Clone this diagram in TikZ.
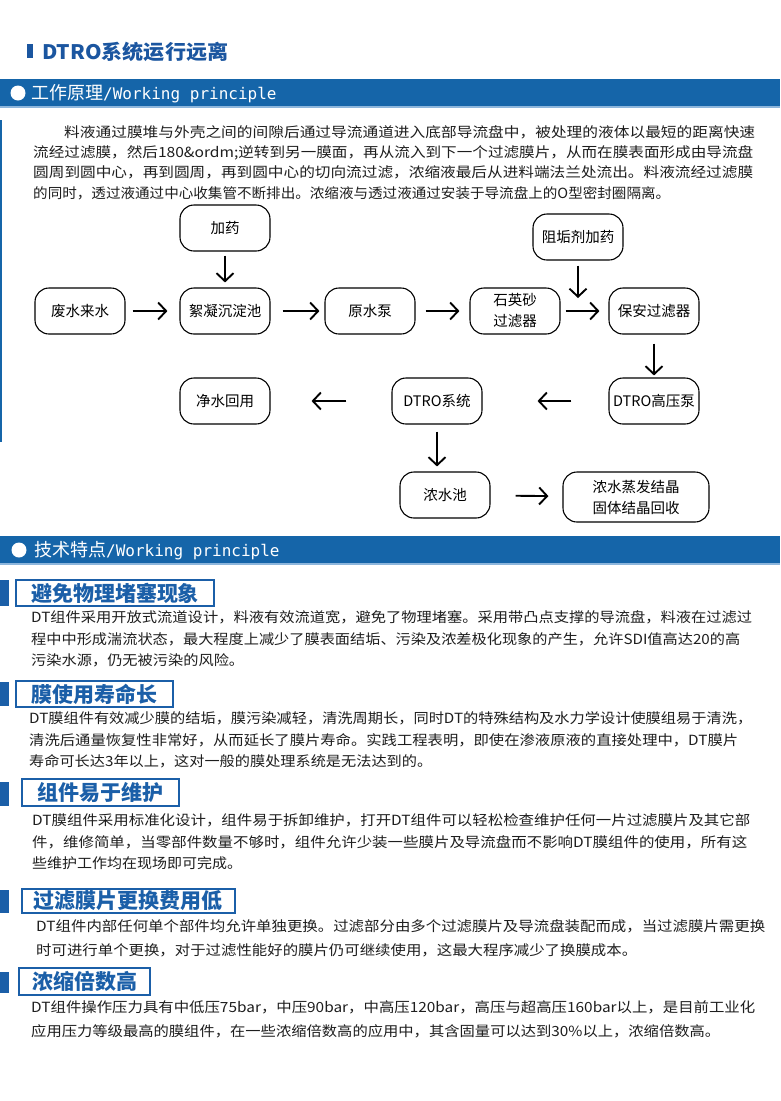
\documentclass[tikz,border=0pt]{standalone}
\usepackage{fontspec}
\usepackage{graphicx}
\setmainfont{Noto Sans CJK SC}
\newfontfamily\monofam{DejaVu Sans Mono}
\usetikzlibrary{arrows.meta}
\definecolor{bandblue}{HTML}{1565A9}
\definecolor{bandlight}{HTML}{8DB6DC}
\definecolor{titleblue}{HTML}{1B56A0}
\definecolor{hdrblue}{HTML}{1B5FA8}
\definecolor{txtcol}{HTML}{1E1E1E}
\newcommand{\txtline}[5]{\node[tline] (#1) at (#2,#3) {\resizebox{#4pt}{\height}{#5}};}
\begin{document}
\begin{tikzpicture}[x=1pt,y=-1pt,
  tline/.style={anchor=base west,inner sep=0pt,text=txtcol,font=\fontsize{14}{17}\selectfont},
  flowbox/.style={draw=black,line width=1.1pt,rounded corners=14pt,fill=white,
    minimum width=90pt,minimum height=46pt,align=center,inner sep=2pt,
    font=\fontsize{14.5}{21}\selectfont},
  farr/.style={line width=1.9pt,line join=round,-{Straight Barb[length=8pt,width=17pt]}},
  hdr/.style={draw=hdrblue,line width=1.5pt,fill=white,text=hdrblue,inner sep=0pt,
    font=\bfseries\fontsize{21}{23}\selectfont},
  bandtxt/.style={anchor=base west,inner sep=0pt,text=white}
]
\useasboundingbox (0,0) rectangle (780,1101);
\fill[white] (0,0) rectangle (780,1101);

% title
\fill[titleblue] (27,44) rectangle (33,58);
\node[anchor=base west,inner sep=0pt,text=titleblue] (title) at (42,59)
  {\resizebox{186pt}{\height}{\bfseries\fontsize{20}{22}\selectfont DTRO系统运行远离}};

% band 1
\fill[bandblue] (0,79) rectangle (780,106);
\fill[bandlight] (0,106) rectangle (780,108);
\node[circle,fill=white,minimum size=15pt,inner sep=0pt] (c1) at (18,93) {};
\node[bandtxt] (b1) at (31,99) {\fontsize{18}{20}\selectfont 工作原理{\monofam\fontsize{16}{20}\selectfont /Working principle}};
\fill[bandblue] (0,120) rectangle (2,442);

% paragraph 1
\txtline{p1a}{64}{137}{691}{料液通过膜堆与外壳之间的间隙后通过导流通道进入底部导流盘中，被处理的液体以最短的距离快速}
\txtline{p1b}{33}{157}{720}{流经过滤膜，然后180\&ordm;逆转到另一膜面，再从流入到下一个过滤膜片，从而在膜表面形成由导流盘}
\txtline{p1c}{33}{177}{720}{圆周到圆中心，再到圆周，再到圆中心的切向流过滤，浓缩液最后从进料端法兰处流出。料液流经过滤膜}
\txtline{p1d}{33}{198}{637}{的同时，透过液通过中心收集管不断排出。浓缩液与透过液通过安装于导流盘上的O型密封圈隔离。}

% flowchart
\node[flowbox] (yao) at (225,228) {加药};
\node[flowbox] (zugou) at (578,237) {阻垢剂加药};
\node[flowbox] (fs) at (80,311) {废水来水};
\node[flowbox] (xn) at (225,311) {絮凝沉淀池};
\node[flowbox] (ys) at (370,311) {原水泵};
\node[flowbox] (sy) at (515,311) {石英砂\\过滤器};
\node[flowbox] (ba) at (654,311) {保安过滤器};
\node[flowbox] (js) at (225,401) {净水回用};
\node[flowbox] (dt) at (437,401) {DTRO系统};
\node[flowbox] (gy) at (654,401) {DTRO高压泵};
\node[flowbox] (ns) at (445,495) {浓水池};
\node[flowbox,minimum width=146pt,minimum height=50pt] (zf) at (636,497) {浓水蒸发结晶\\固体结晶回收};
\coordinate (zt) at (578,298);

\draw[farr,shorten <=7pt,shorten >=12pt] (fs) -- (xn);
\draw[farr,shorten <=12pt,shorten >=5pt] (xn) -- (ys);
\draw[farr,shorten <=10pt,shorten >=10pt] (ys) -- (sy);
\draw[farr,shorten <=5pt,shorten >=9pt] (sy) -- (ba);
\draw[farr,shorten <=4pt,shorten >=5pt] (yao) -- (xn);
\draw[farr,shorten <=5pt] (zugou) -- (zt);
\draw[farr,shorten <=9pt,shorten >=2pt] (ba) -- (gy);
\draw[farr,shorten <=37pt,shorten >=55pt] (gy) -- (dt);
\draw[farr,shorten <=45pt,shorten >=41pt] (dt) -- (js);
\draw[farr,shorten <=7pt,shorten >=5pt] (dt.south) -- (dt.south |- ns.north);
\draw[farr,shorten <=25pt,shorten >=14pt] (ns) -- (zf);

% band 2
\fill[bandblue] (0,536) rectangle (780,563);
\fill[bandlight] (0,563) rectangle (780,565);
\node[circle,fill=white,minimum size=15pt,inner sep=0pt] (c2) at (19,550) {};
\node[bandtxt] (b2) at (34,556) {\fontsize{18}{20}\selectfont 技术特点{\monofam\fontsize{16}{20}\selectfont /Working principle}};

% section 1
\fill[hdrblue] (0,580) rectangle (9,606);
\node[hdr,minimum width=198pt,minimum height=26pt] (h1) at (115,593) {避免物理堵塞现象};
\txtline{p2a}{31}{622}{721}{DT组件采用开放式流道设计，料液有效流道宽，避免了物理堵塞。采用带凸点支撑的导流盘，料液在过滤过}
\txtline{p2b}{31}{644}{709}{程中中形成湍流状态，最大程度上减少了膜表面结垢、污染及浓差极化现象的产生，允许SDI值高达20的高}
\txtline{p2c}{31}{665}{213}{污染水源，仍无被污染的风险。}

% section 2
\fill[hdrblue] (0,682) rectangle (9,706);
\node[hdr,minimum width=157pt,minimum height=26pt] (h2) at (94.5,694) {膜使用寿命长};
\txtline{p3a}{29}{723}{723}{DT膜组件有效减少膜的结垢，膜污染减轻，清洗周期长，同时DT的特殊结构及水力学设计使膜组易于清洗，}
\txtline{p3b}{29}{745}{709}{清洗后通量恢复性非常好，从而延长了膜片寿命。实践工程表明，即使在渗液原液的直接处理中，DT膜片}
\txtline{p3c}{29}{766}{403}{寿命可长达3年以上，这对一般的膜处理系统是无法达到的。}

% section 3
\fill[hdrblue] (0,782) rectangle (9,806);
\node[hdr,minimum width=157pt,minimum height=27pt] (h3) at (100.5,792.5) {组件易于维护};
\txtline{p4a}{32}{825}{718}{DT膜组件采用标准化设计，组件易于拆卸维护，打开DT组件可以轻松检查维护任何一片过滤膜片及其它部}
\txtline{p4b}{32}{847}{715}{件，维修简单，当零部件数量不够时，组件允许少装一些膜片及导流盘而不影响DT膜组件的使用，所有这}
\txtline{p4c}{32}{868}{210}{些维护工作均在现场即可完成。}

% section 4
\fill[hdrblue] (0,890) rectangle (9,913);
\node[hdr,minimum width=213pt,minimum height=24pt] (h4) at (128.5,901) {过滤膜片更换费用低};
\txtline{p5a}{36}{931}{729}{DT组件内部任何单个部件均允许单独更换。过滤部分由多个过滤膜片及导流盘装配而成，当过滤膜片需更换}
\txtline{p5b}{36}{955}{601}{时可进行单个更换，对于过滤性能好的膜片仍可继续使用，这最大程序减少了换膜成本。}

% section 5
\fill[hdrblue] (0,972) rectangle (9,993);
\node[hdr,minimum width=131pt,minimum height=27pt] (h5) at (84.5,981.5) {浓缩倍数高};
\txtline{p6a}{31}{1012}{724}{DT组件操作压力具有中低压75bar，中压90bar，中高压120bar，高压与超高压160bar以上，是目前工业化}
\txtline{p6b}{31}{1036}{689}{应用压力等级最高的膜组件，在一些浓缩倍数高的应用中，其含固量可以达到30\%以上，浓缩倍数高。}
\end{tikzpicture}
\end{document}
